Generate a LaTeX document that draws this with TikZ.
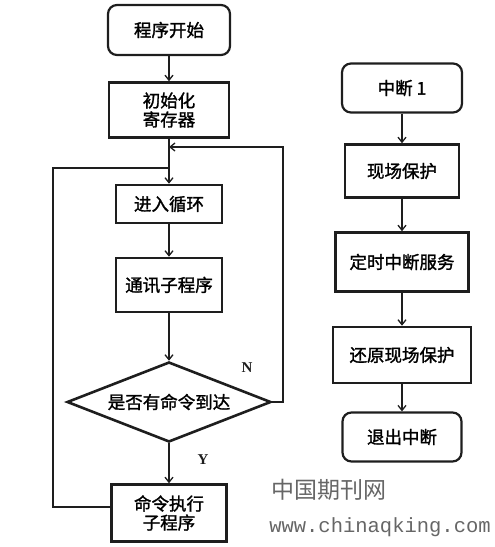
\documentclass[tikz,border=0pt]{standalone}
\usepackage{fontspec}
\usepackage{tikz}
\usepackage{xcolor}
\usetikzlibrary{arrows.meta,positioning,shapes.geometric,calc}
\newfontfamily\cjk[FakeBold=1.5]{Noto Sans CJK SC}
\newfontfamily\cjkthin{Noto Sans CJK SC}
\newfontfamily\markfont{Liberation Serif}
\newfontfamily\urlfont{Liberation Mono}
\definecolor{ink}{HTML}{1E1E1E}
\definecolor{wmgray}{HTML}{666666}
\tikzset{
  termbox/.style={draw=ink,line width=2.2pt,rounded corners=9pt,
                  inner sep=0pt,align=center,
                  font=\cjk\fontsize{17.5}{19}\selectfont},
  procbox/.style={draw=ink,line width=2.6pt,
                  inner sep=0pt,align=center,
                  font=\cjk\fontsize{17.5}{19}\selectfont},
  testbox/.style={diamond,draw=ink,line width=2.6pt,aspect=2.5,
                  inner sep=0pt,align=center,
                  font=\cjk\fontsize{17.5}{19}\selectfont},
  flowarr/.style={-{Straight Barb[length=5pt,width=8pt]},line width=1.3pt,color=ink},
  flowline/.style={line width=1.3pt,color=ink},
  yesno/.style={font=\markfont\bfseries\fontsize{15}{15}\selectfont,text=ink}
}

\begin{document}
\begin{tikzpicture}[x=1pt,y=-1pt,>=Latex]
  \useasboundingbox (0,0) rectangle (495,547);
  \node[termbox,minimum width=122pt,minimum height=50pt] (start) at (169,30) {程序开始};
  \node[procbox,minimum width=120pt,minimum height=55pt] (init) at (169,110) {初始化\\寄存器};
  \node[procbox,minimum width=106pt,minimum height=38pt] (loop) at (169,204) {进入循环};
  \node[procbox,minimum width=106pt,minimum height=54pt] (comm) at (169,285) {通讯子程序};
  \node[testbox,minimum width=204pt,minimum height=80pt] (ask) at (169,402) {是否有命令到达};
  \node[procbox,minimum width=115pt,minimum height=57pt] (exec) at (169,513) {命令执行\\子程序};
  \coordinate (back) at (169,147);
  \coordinate (join) at (169,168);
  \coordinate (rgt) at (283,402);
  \coordinate (lft) at (53,168);
  \node[yesno] (no) at (247,368) {N};
  \node[yesno] (yes) at (203,460) {Y};

  \draw[flowarr] (start) -- (init);
  \draw[flowarr] (init) -- (loop);
  \draw[flowarr] (loop) -- (comm);
  \draw[flowarr] (comm) -- (ask);
  \draw[flowarr] (ask) -- (exec);
  \draw[flowarr] (ask.east) -- (rgt) |- (back);
  \draw[flowline] ([yshift=6pt]exec.west) -| (lft) -- (join);

  \node[termbox,minimum width=120pt,minimum height=49pt] (intr) at (402,88) {中断 1};
  \foreach \n/\y/\w/\h/\t in {save/171/114/53/现场保护,timer/262/133/59/定时中断服务,restore/355/138/56/还原现场保护} {
    \node[procbox,minimum width=\w pt,minimum height=\h pt] (\n) at (402,\y) {\t};
  }
  \node[termbox,minimum width=119pt,minimum height=49pt] (quit) at (402,437) {退出中断};
  \foreach \a/\b in {intr/save,save/timer,timer/restore,restore/quit} {
    \draw[flowarr] (\a) -- (\b);
  }

  \node[font=\cjkthin\fontsize{23}{23}\selectfont,text=wmgray] (wmark) at (329,490) {中国期刊网};
  \node[font=\urlfont\fontsize{20.5}{20.5}\selectfont,text=wmgray] (wurl) at (380,527) {www.chinaqking.com};
\end{tikzpicture}
\end{document}
